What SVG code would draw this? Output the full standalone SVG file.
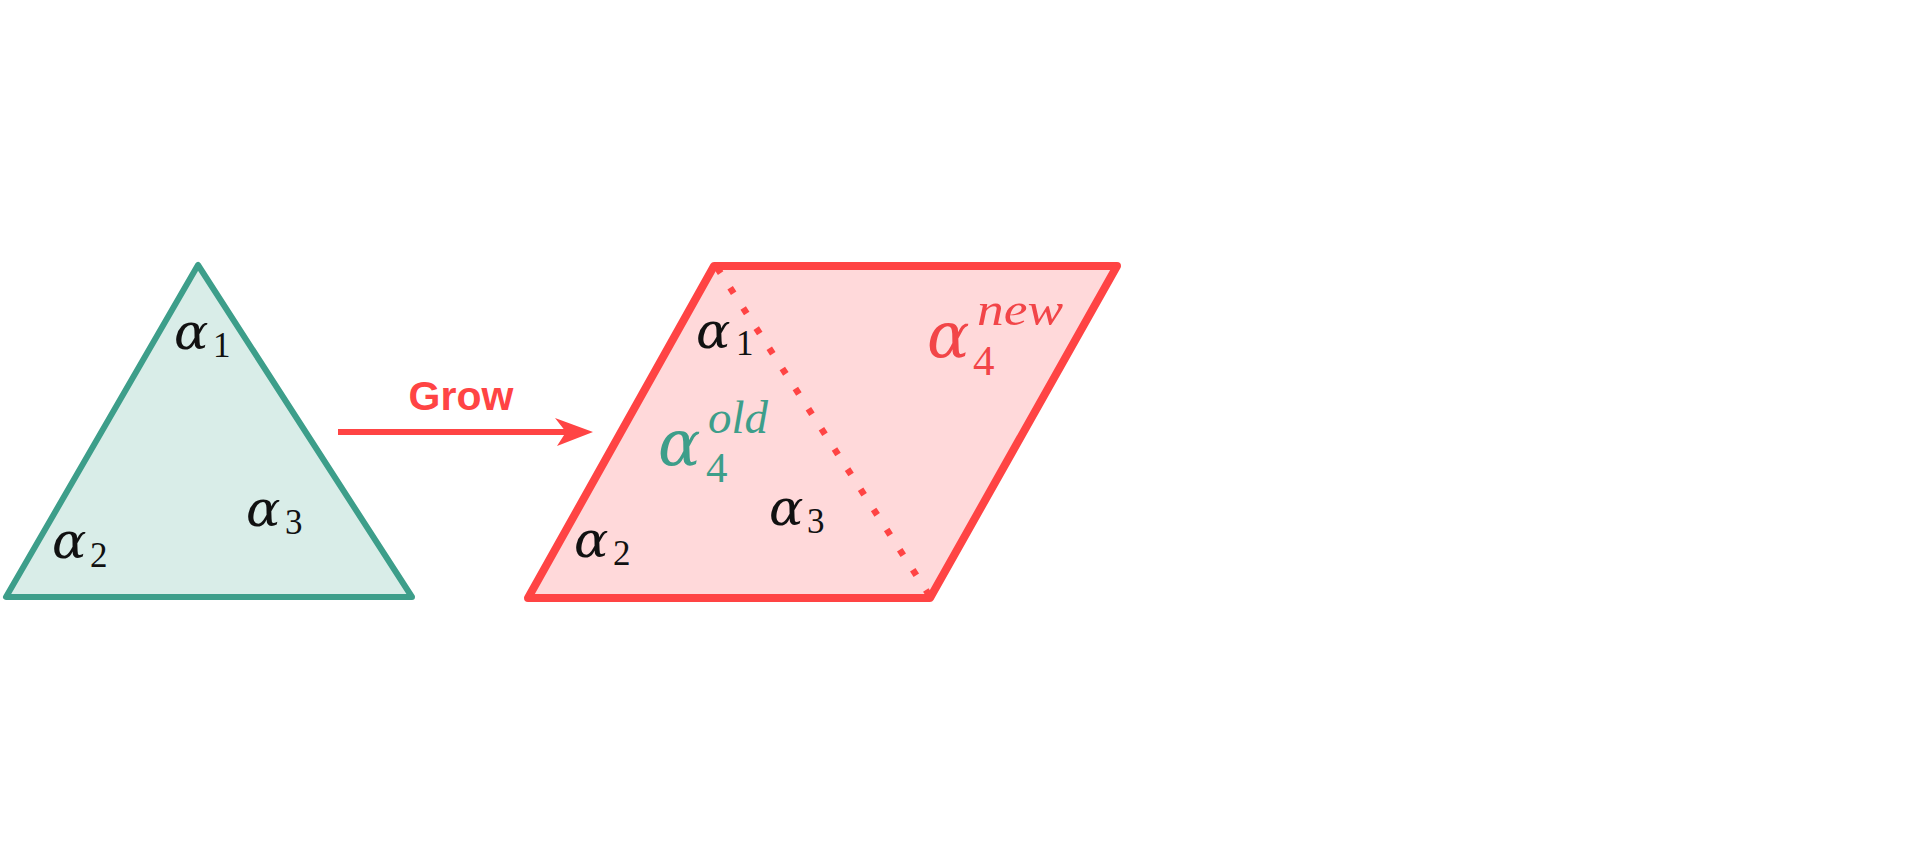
<svg xmlns="http://www.w3.org/2000/svg" width="1907" height="868" viewBox="0 0 1907 868">
<style>
.a{font-family:"DejaVu Serif","Liberation Serif",serif;font-style:italic;font-size:51px;fill:#111}
.s{font-family:"Liberation Serif","DejaVu Serif",serif;font-size:35px;fill:#111}
.sup{font-family:"Liberation Serif","DejaVu Serif",serif;font-style:italic;font-size:46px}
.big{font-size:63px}
.bs{font-size:43px}
.teal{fill:#3D9E8A}
.red{fill:#F24548}
.lbl{font-family:"Liberation Sans",Arial,sans-serif;font-weight:bold;font-size:41px;fill:#FF4444}
</style>
<defs>
<marker id="ah" markerUnits="userSpaceOnUse" markerWidth="40" markerHeight="32" refX="11" refY="15" orient="auto" overflow="visible">
<path d="M0,1 L38,15 L2,29 L11,15 Z" fill="#FF4444"/>
</marker>
</defs>
<rect width="1907" height="868" fill="#fff"/>
<g id="triangle">
<polygon points="198,265 6,597 412,597" fill="#D9EDE8" stroke="#3D9E8A" stroke-width="6" stroke-linejoin="round"/>
<text class="a" x="174" y="349">α</text><text class="s" x="213" y="357">1</text>
<text class="a" x="52" y="558">α</text><text class="s" x="90" y="567">2</text>
<text class="a" x="246" y="526">α</text><text class="s" x="285" y="534">3</text>
</g>
<g id="parallelogram">
<polygon points="714,266 1117,266 930,598 528,598" fill="#FFD9DA" stroke="#FF4444" stroke-width="8" stroke-linejoin="round"/>
<line x1="716" y1="266" x2="931" y2="598" stroke="#FF4444" stroke-width="6.5" stroke-dasharray="6.5 17.5" stroke-dashoffset="-2"/>
<text class="a" x="696" y="348">α</text><text class="s" x="736" y="355">1</text>
<text class="a" x="574" y="557">α</text><text class="s" x="613" y="565">2</text>
<text class="a" x="769" y="525">α</text><text class="s" x="807" y="533">3</text>
<text class="a big teal" x="658" y="465">α</text><text class="s bs teal" x="706" y="482">4</text><text class="sup teal" x="708" y="433" textLength="60" lengthAdjust="spacingAndGlyphs">old</text>
<text class="a big red" x="927" y="357">α</text><text class="s bs red" x="973" y="375">4</text><text class="sup red" x="977" y="325" textLength="86" lengthAdjust="spacingAndGlyphs">new</text>
</g>
<g id="connectors">
<line x1="338" y1="432" x2="566" y2="432" stroke="#FF4444" stroke-width="6" marker-end="url(#ah)"/>
<text class="lbl" x="461" y="410" text-anchor="middle">Grow</text>
</g>
</svg>
